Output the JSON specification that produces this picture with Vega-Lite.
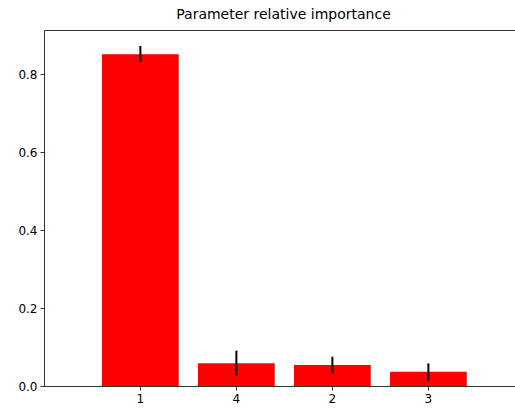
{
  "$schema": "https://vega.github.io/schema/vega-lite/v6.json",
  "width": 471,
  "height": 356,
  "autosize": {"type": "none"},
  "padding": {"left": 44, "top": 30, "right": 0, "bottom": 26},
  "background": "white",
  "title": {
    "text": "Parameter relative importance",
    "font": "DejaVu Sans",
    "fontSize": 14,
    "fontWeight": "normal",
    "color": "black",
    "anchor": "middle",
    "dx": 4,
    "offset": 8
  },
  "config": {
    "view": {"stroke": null},
    "axis": {
      "labelFont": "DejaVu Sans",
      "labelFontSize": 12,
      "labelColor": "black",
      "domainColor": "#333",
      "domainWidth": 1,
      "tickColor": "#333",
      "tickSize": 4,
      "grid": false,
      "title": null
    }
  },
  "data": {
    "values": [
      {"param": "1", "importance": 0.851, "lo": 0.831, "hi": 0.872},
      {"param": "4", "importance": 0.0585, "lo": 0.0265, "hi": 0.0906},
      {"param": "2", "importance": 0.054, "lo": 0.0325, "hi": 0.075},
      {"param": "3", "importance": 0.0368, "lo": 0.0137, "hi": 0.058}
    ]
  },
  "encoding": {
    "x": {
      "field": "param",
      "type": "nominal",
      "sort": ["1", "4", "2", "3"],
      "scale": {"paddingInner": 0.2, "paddingOuter": 0.553, "align": 0.546}
    }
  },
  "layer": [
    {
      "mark": {"type": "bar", "color": "red"},
      "encoding": {
        "x": {
          "field": "param",
          "type": "nominal",
          "sort": ["1", "4", "2", "3"],
          "axis": {"orient": "bottom", "labelAngle": 0, "labelPadding": 3}
        },
        "y": {
          "field": "importance",
          "type": "quantitative",
          "scale": {"domain": [0, 0.913], "nice": false, "zero": true},
          "axis": {"values": [0, 0.2, 0.4, 0.6, 0.8], "format": ".1f", "labelPadding": 3}
        }
      }
    },
    {
      "mark": {"type": "rule", "color": "black", "strokeWidth": 2},
      "encoding": {
        "x": {
          "field": "param",
          "type": "nominal",
          "sort": ["1", "4", "2", "3"],
          "axis": {"orient": "top", "labels": false, "ticks": false}
        },
        "y": {"field": "lo", "type": "quantitative"},
        "y2": {"field": "hi"}
      }
    }
  ],
  "resolve": {"axis": {"x": "independent"}}
}
